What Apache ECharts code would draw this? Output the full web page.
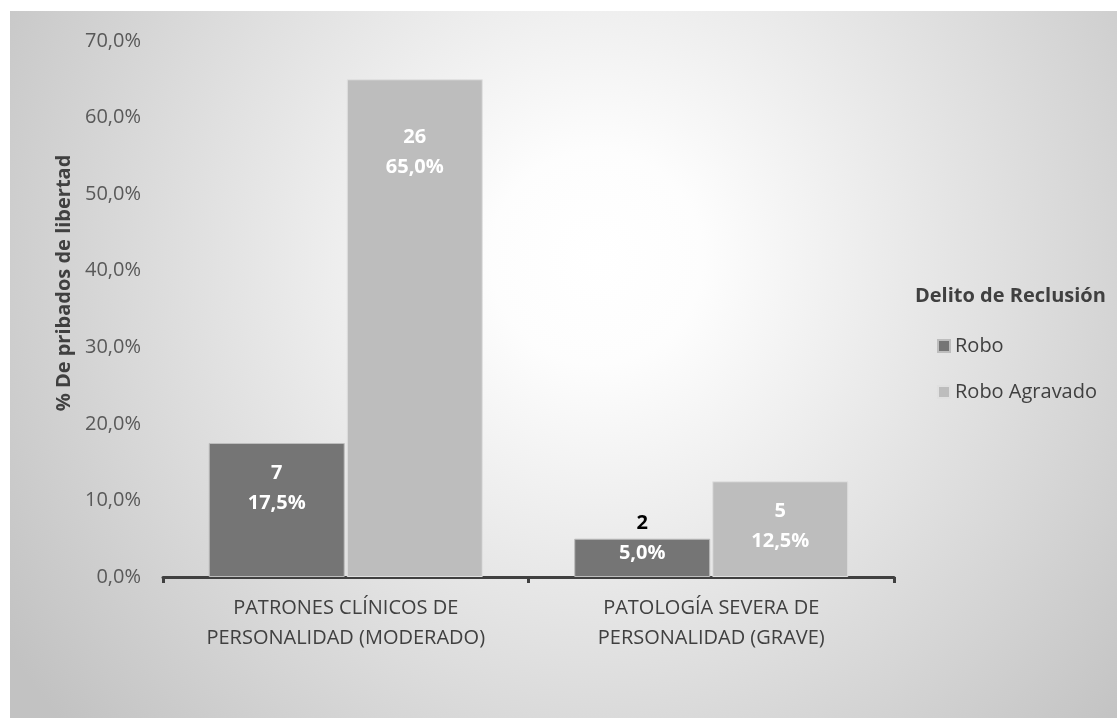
<!DOCTYPE html>
<html>
<head>
<meta charset="utf-8">
<script src="https://cdn.jsdelivr.net/npm/echarts@6/dist/echarts.min.js"></script>
<style>
html,body{margin:0;padding:0;background:#fff;}
#c{position:absolute;left:10px;top:11px;width:1107px;height:707px;}
</style>
</head>
<body>
<div id="c"></div>
<script>
const categories = ['PATRONES CLÍNICOS DE\nPERSONALIDAD (MODERADO)', 'PATOLOGÍA SEVERA DE\nPERSONALIDAD (GRAVE)'];
const seriesNames = ['Robo', 'Robo Agravado'];
const roboCounts = [7, 2];
const roboPct = [17.5, 5.0];
const agravadoCounts = [26, 5];
const agravadoPct = [65.0, 12.5];
const yTicks = [0, 10, 20, 30, 40, 50, 60, 70];

const FONT = 'Open Sans';
const FS = 20;
const fmtPct = v => v.toFixed(1).replace('.', ',') + '%';

function buildData(counts, pcts, offsets, firstDark) {
  return pcts.map((p, i) => ({
    value: p,
    label: {
      offset: offsets[i],
      formatter: '{' + (firstDark[i] ? 'k' : 'a') + '|' + counts[i] + '}\n{a|' + fmtPct(p) + '}'
    }
  }));
}

const labelBase = {
  show: true,
  position: 'insideTop',
  distance: 15,
  rich: {
    a: { color: '#fff', fontFamily: FONT, fontWeight: 'bold', fontSize: FS, lineHeight: 30 },
    k: { color: '#000', fontFamily: FONT, fontWeight: 'bold', fontSize: FS, lineHeight: 30 }
  }
};

const chart = echarts.init(document.getElementById('c'));
chart.setOption({
  backgroundColor: {
    type: 'radial', x: 0.53, y: 0.35, r: 1.0,
    colorStops: [
      { offset: 0, color: '#ffffff' },
      { offset: 0.15, color: '#fdfdfd' },
      { offset: 1, color: '#c2c2c2' }
    ]
  },
  textStyle: { fontFamily: FONT },
  title: {
    text: 'Delito de Reclusión',
    left: 900, top: 270,
    textStyle: { fontFamily: FONT, fontWeight: 'bold', fontSize: FS, color: '#404040' }
  },
  legend: {
    orient: 'vertical',
    left: 922, top: 320,
    itemWidth: 12, itemHeight: 12, itemGap: 26,
    icon: 'rect',
    data: seriesNames,
    textStyle: { fontFamily: FONT, fontSize: FS, color: '#404040' }
  },
  grid: { left: 153, top: 30, right: 223, bottom: 141 },
  xAxis: {
    type: 'category',
    data: categories,
    axisLine: { lineStyle: { color: '#404040', width: 3 } },
    axisTick: { show: true, length: 6, lineStyle: { color: '#404040', width: 3 } },
    axisLabel: { color: '#404040', fontFamily: FONT, fontSize: FS, lineHeight: 30, margin: 16 }
  },
  yAxis: {
    type: 'value',
    min: yTicks[0], max: yTicks[yTicks.length - 1], interval: 10,
    name: '% De pribados de libertad',
    nameLocation: 'middle',
    nameGap: 86,
    nameTextStyle: { fontFamily: FONT, fontWeight: 'bold', fontSize: FS, color: '#404040', padding: [0, 0, 0, 52] },
    axisLine: { show: false },
    axisTick: { show: false },
    splitLine: { show: false },
    axisLabel: { color: '#595959', fontFamily: FONT, fontSize: FS, margin: 22, formatter: fmtPct }
  },
  series: [
    {
      name: seriesNames[0], type: 'bar', barWidth: 136, barGap: '1.5%',
      itemStyle: { color: '#757575', borderColor: '#bdbdbd', borderWidth: 1 },
      label: labelBase,
      data: buildData(roboCounts, roboPct, [[0, 0], [0, -45]], [false, true])
    },
    {
      name: seriesNames[1], type: 'bar', barWidth: 136,
      itemStyle: { color: '#bdbdbd', borderColor: '#e0e0e0', borderWidth: 1 },
      label: labelBase,
      data: buildData(agravadoCounts, agravadoPct, [[0, 28], [0, 0]], [false, false])
    }
  ]
});
</script>
</body>
</html>
